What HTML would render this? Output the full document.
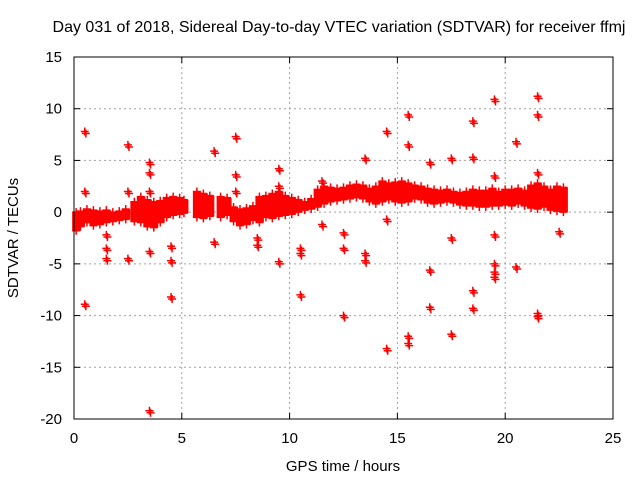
<!DOCTYPE html>
<html><head><meta charset="utf-8"><style>
body{margin:0;background:#fff}
svg{display:block;font-family:"Liberation Sans",sans-serif}
</style></head><body>
<svg id="c" width="640" height="480">
<rect width="640" height="480" fill="#fff"/>
<text x="339" y="32" font-size="16" text-anchor="middle">Day 031 of 2018, Sidereal Day-to-day VTEC variation (SDTVAR) for receiver ffmj</text>
<text x="343" y="471" font-size="15" text-anchor="middle">GPS time / hours</text>
<text transform="translate(18,238) rotate(-90)" font-size="15" text-anchor="middle">SDTVAR / TECUs</text>
<g id="grid"></g><g id="band"></g><g id="pts"></g>
<rect x="74" y="57" width="539" height="362" fill="none" stroke="#000" stroke-width="1"/>
</svg>
<script>
const xTicks=[0,5,10,15,20,25];
const yTicks=[15,10,5,0,-5,-10,-15,-20];
const bandTimes=[0.1,0.3,0.6,0.9,1.2,1.5,1.8,2.1,2.4,2.8,3.1,3.4,3.7,4.0,4.3,4.6,4.9,5.1,5.7,6.0,6.3,6.8,7.1,7.4,7.7,8.0,8.3,8.6,8.9,9.2,9.5,9.8,10.1,10.4,10.7,11.0,11.3,11.6,11.9,12.2,12.5,12.8,13.1,13.4,13.7,14.0,14.3,14.6,14.9,15.2,15.5,15.8,16.1,16.4,16.7,17.0,17.3,17.6,17.9,18.2,18.5,18.8,19.1,19.4,19.7,20.0,20.3,20.6,20.9,21.2,21.5,21.8,22.1,22.4,22.7];
const bandLow=[-1.8,-1.4,-1.0,-1.3,-1.2,-1.0,-0.9,-0.8,-0.7,-0.9,-1.0,-1.4,-1.5,-1.0,-0.5,-0.3,-0.2,-0.1,-0.5,-0.6,-0.4,-0.5,-0.3,-0.9,-1.3,-1.2,-0.8,-1.0,-0.5,-0.6,-0.4,-0.3,-0.2,0.0,0.2,0.3,0.5,0.8,1.0,1.1,1.2,1.3,1.4,1.3,1.0,0.8,1.0,1.2,1.0,0.9,1.0,1.3,1.2,0.9,0.8,0.9,1.0,0.9,0.7,0.6,0.6,0.5,0.5,0.6,0.6,0.7,0.6,0.8,0.6,0.4,0.3,0.5,0.2,0.1,0.0];
const bandHigh=[0.0,0.1,0.3,0.2,0.1,0.2,0.0,0.1,0.3,1.0,1.5,1.2,1.0,1.1,1.4,1.5,1.4,1.2,2.0,1.8,1.6,1.5,1.4,0.5,0.3,0.4,0.6,1.5,1.6,1.8,2.0,1.6,1.4,1.2,1.0,1.3,2.2,2.5,2.4,2.3,2.4,2.6,2.7,2.6,2.3,2.5,3.0,2.8,2.9,3.0,2.8,2.6,2.5,2.3,2.2,2.1,2.2,2.0,1.9,2.0,2.2,2.1,2.1,2.3,2.0,2.2,2.2,2.3,2.1,2.6,2.8,2.5,2.2,2.5,2.4];
const outT=[0.5,0.5,0.5,2.5,2.5,2.5,3.5,3.5,3.5,3.5,3.5,4.5,4.5,4.5,4.5,1.5,1.5,1.5,6.5,6.5,7.5,7.5,7.5,8.5,8.5,9.5,9.5,9.5,10.5,10.5,10.5,12.5,12.5,12.5,13.5,13.5,13.5,14.5,14.5,14.5,15.5,15.5,15.5,15.5,16.5,16.5,16.5,17.5,17.5,17.5,18.5,18.5,18.5,18.5,19.5,19.5,19.5,19.5,19.5,19.5,20.5,20.5,21.5,21.5,21.5,21.5,21.5,22.5,11.5,11.5];
const outV=[7.8,2.0,-8.9,6.5,2.0,-4.5,4.8,3.8,2.0,-3.8,-19.2,1.0,-3.3,-4.7,-8.2,-2.2,-3.5,-4.5,5.9,-2.9,7.3,3.6,2.0,-2.5,-3.2,4.2,2.5,-4.8,-3.5,-4.0,-8.0,-2.0,-3.5,-10.0,5.2,-4.0,-4.7,7.8,-0.7,-13.2,9.4,6.5,-12.0,-12.7,4.8,-5.6,-9.2,5.2,-2.5,-11.8,8.8,5.3,-7.6,-9.3,10.9,3.5,-2.2,-5.0,-5.8,-6.3,6.8,-5.3,11.2,9.4,3.8,-9.8,-10.1,-1.9,3.0,-1.2];

const X=t=>74+t*(539/25);
const Y=v=>57+(15-v)*(362/35);
const NS="http://www.w3.org/2000/svg";
function mk(tag,attrs,parent){const e=document.createElementNS(NS,tag);for(const k in attrs)e.setAttribute(k,attrs[k]);parent.appendChild(e);return e;}
const grid=document.getElementById('grid'),band=document.getElementById('band'),pts=document.getElementById('pts'),svg=document.getElementById('c');
xTicks.forEach(t=>{
  if(t>0&&t<25){const g=mk('line',{x1:X(t),x2:X(t),y1:57,y2:419,stroke:'#a0a0a0','stroke-dasharray':'2,3'},grid);
  
  }
  mk('line',{x1:X(t),x2:X(t),y1:419,y2:413,stroke:'#000'},grid);
  mk('line',{x1:X(t),x2:X(t),y1:57,y2:63,stroke:'#000'},grid);
  const l=mk('text',{x:X(t),y:443,'font-size':15,'text-anchor':'middle'},svg);l.textContent=t;
  
  
});
yTicks.forEach(v=>{
  if(v>-20&&v<15){const g=mk('line',{x1:74,x2:613,y1:Y(v),y2:Y(v),stroke:'#a0a0a0','stroke-dasharray':'2,3'},grid);
  
  }
  mk('line',{x1:74,x2:80,y1:Y(v),y2:Y(v),stroke:'#000'},grid);
  mk('line',{x1:607,x2:613,y1:Y(v),y2:Y(v),stroke:'#000'},grid);
  const l=mk('text',{x:62,y:Y(v)+5,'font-size':15,'text-anchor':'end'},svg);l.textContent=v;
  
  
});
function plus(t,v,parent){
  const x=X(t),y=Y(v);
  const p=mk('path',{d:`M${x-4},${y}H${x+4}M${x},${y-4}V${y+4}`,stroke:'#f00','stroke-width':1.5,fill:'none'},parent);
  return p;
}
bandTimes.forEach((t,i)=>{
  const r=mk('rect',{x:X(t)-4,y:Y(bandHigh[i]),width:8.5,height:Y(bandLow[i])-Y(bandHigh[i]),fill:'#f00'},band);
  
  
  const a=plus(t,bandHigh[i],band);
  
  
  const b=plus(t,bandLow[i],band);
  
  
});
outT.forEach((t,i)=>{
  const p=plus(t,outV[i],pts);
  
  
  const q=plus(t+0.05,outV[i]-0.2,pts);
  
  
});
</script>
</body></html>
